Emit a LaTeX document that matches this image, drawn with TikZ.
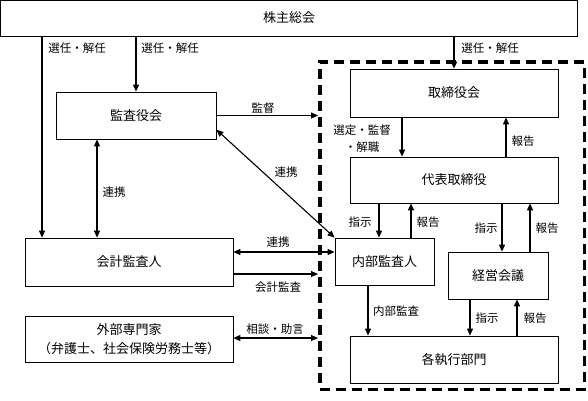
\documentclass[tikz,border=0pt]{standalone}
\usepackage{fontspec}
\setmainfont{Noto Sans CJK JP}
\usetikzlibrary{arrows.meta,calc}
\tikzset{
 box/.style={draw, line width=0.8pt, inner sep=0pt, font=\fontsize{13}{19}\selectfont, align=center},
 lbl/.style={inner sep=0pt, font=\fontsize{11.5}{17}\selectfont, align=center},
 arr/.style={line width=1.1pt, -{Triangle[length=7pt,width=6pt]}},
 darr/.style={line width=1.1pt, {Triangle[length=7pt,width=6pt]}-{Triangle[length=7pt,width=6pt]}},
 frame/.style={draw, line width=3.5pt, dash pattern=on 10pt off 6pt, inner sep=0pt},
}
\begin{document}
\begin{tikzpicture}[x=1pt,y=-1pt]
\useasboundingbox (0,0) rectangle (588,400);
% boxes
\node[box, minimum width=577pt, minimum height=36pt] (top) at (289,18) {株主総会};
\node[box, minimum width=160pt, minimum height=47pt] (kansa) at (136,115.5) {監査役会};
\node[box, minimum width=208pt, minimum height=48pt] (kaikei) at (129,262) {会計監査人};
\node[box, minimum width=208pt, minimum height=46pt] (gaibu) at (129,339) {外部専門家\\（弁護士、社会保険労務士等）};
\node[frame, minimum width=264.5pt, minimum height=327.5pt] (frm) at (452,225.5) {};
\node[box, minimum width=208pt, minimum height=48pt] (tori) at (454,93) {取締役会};
\node[box, minimum width=208pt, minimum height=46pt] (daihyo) at (454,180) {代表取締役};
\node[box, minimum width=99pt, minimum height=47pt] (naibu) at (384.5,261.5) {内部監査人};
\node[box, minimum width=100pt, minimum height=47pt] (keiei) at (498,275.5) {経営会議};
\node[box, minimum width=208pt, minimum height=47pt] (shikko) at (454,359.5) {各執行部門};
% helper coordinates
\coordinate (c1) at (42,0);
\coordinate (c2) at (97,0);
\coordinate (c3) at (402,0);
\coordinate (c4) at (506,0);
\coordinate (c5) at (379,0);
\coordinate (c6) at (411,0);
\coordinate (c7) at (502,0);
\coordinate (c8) at (530,0);
\coordinate (c9) at (368,0);
\coordinate (c10) at (470,0);
\coordinate (c11) at (517,0);
\coordinate (r1) at (0,252);
\coordinate (r2) at (0,274);
\coordinate (r3) at (0,338);
% connectors
\draw[arr] (top.south -| c1) -- (kaikei.north -| c1);
\draw[arr] (top.south -| kansa.north) -- (kansa.north);
\draw[arr] (top.south -| tori.north) -- (tori.north);
\draw[darr] (kansa.south -| c2) -- (kaikei.north -| c2);
\draw[arr] (kansa.east) -- (kansa.east -| frm.west);
\draw[darr] (kansa.-10.3) -- (naibu.north west);
\draw[arr] (tori.south -| c3) -- (daihyo.north -| c3);
\draw[arr] (daihyo.north -| c4) -- (tori.south -| c4);
\draw[arr] (daihyo.south -| c5) -- (naibu.north -| c5);
\draw[arr] (naibu.north -| c6) -- (daihyo.south -| c6);
\draw[arr] (daihyo.south -| c7) -- (keiei.north -| c7);
\draw[arr] (keiei.north -| c8) -- (daihyo.south -| c8);
\draw[arr] (naibu.south -| c9) -- (shikko.north -| c9);
\draw[arr] (keiei.south -| c10) -- (shikko.north -| c10);
\draw[arr] (shikko.north -| c11) -- (keiei.south -| c11);
\draw[darr] (naibu.west |- r1) -- (kaikei.east |- r1);
\draw[arr] (kaikei.east |- r2) -- (frm.west |- r2);
\draw[darr] (gaibu.east |- r3) -- (frm.west |- r3);
% labels
\node[lbl] (l1) at (77,48) {選任・解任};
\node[lbl] (l2) at (170,48) {選任・解任};
\node[lbl] (l3) at (490,48) {選任・解任};
\node[lbl] (l4) at (263,108) {監督};
\node[lbl] (l5) at (286,172) {連携};
\node[lbl] (l6) at (114,192) {連携};
\node[lbl] (l7) at (362,138.5) {選定・監督\\・解職};
\node[lbl] (l8) at (523,141) {報告};
\node[lbl] (l9) at (360,222) {指示};
\node[lbl] (l10) at (428,222) {報告};
\node[lbl] (l11) at (486,228) {指示};
\node[lbl] (l12) at (547,228) {報告};
\node[lbl] (l13) at (396,311) {内部監査};
\node[lbl] (l14) at (487,318) {指示};
\node[lbl] (l15) at (535,318) {報告};
\node[lbl] (l16) at (278,242) {連携};
\node[lbl] (l17) at (278,287) {会計監査};
\node[lbl] (l18) at (275,329) {相談・助言};
\end{tikzpicture}
\end{document}
